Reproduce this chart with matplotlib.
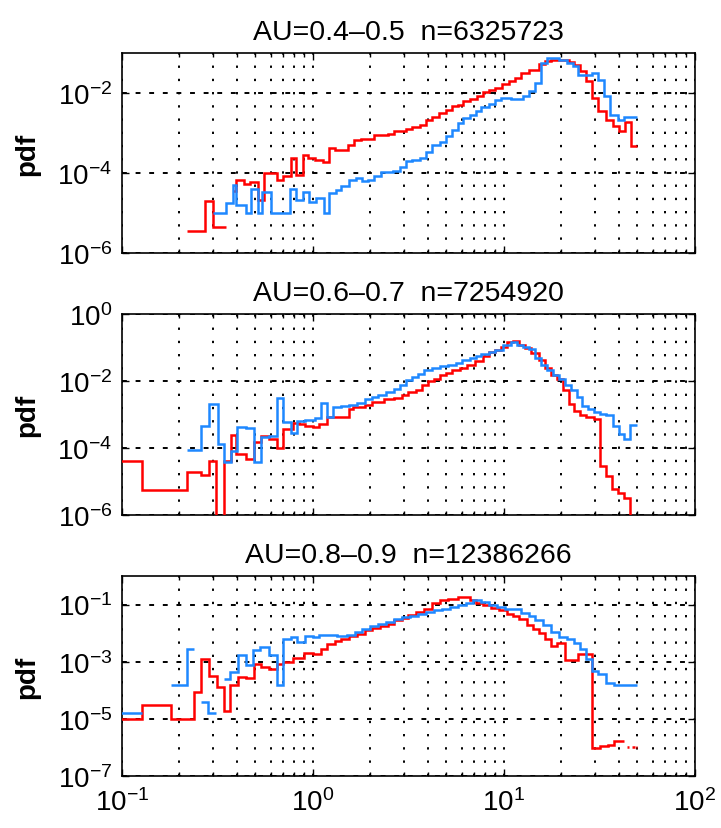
import numpy as np
import matplotlib
matplotlib.use('Agg')
import matplotlib.pyplot as plt
from matplotlib.ticker import LogLocator, NullLocator, NullFormatter

nan = np.nan

# Данные: границы бинов log10(x) и значения log10(pdf)
# --- AU=0.4-0.5 ---
p1_red_lx = [-0.660, -0.564, -0.525, -0.456, -0.421, -0.405, -0.363, -0.332, -0.290, -0.259,
             -0.187, -0.156, -0.114, -0.089, -0.052, -0.027, 0.010, 0.052, 0.083, 0.114,
             0.149, 0.183, 0.214, 0.249, 0.322, 0.394, 0.425, 0.488, 0.519, 0.560,
             0.591, 0.622, 0.660, 0.695, 0.726, 0.757, 0.788, 0.820, 0.861, 0.892,
             0.923, 0.954, 0.990, 1.027, 1.058, 1.089, 1.131, 1.183, 1.214, 1.245,
             1.338, 1.369, 1.400, 1.432, 1.463, 1.494, 1.535, 1.573, 1.604, 1.635,
             1.664, 1.697]
p1_red_ly = [-5.44, -4.71, -5.35, nan, -4.44, -4.18, -4.27, -4.22, -4.67, -4.0,
             -4.17, -4.08, -3.63, -4.04, -3.54, -3.63, -3.67, -3.73, -3.38, -3.42,
             -3.43, -3.29, -3.17, -3.14, -3.06, -3.03, -2.96, -2.89, -2.85, -2.79,
             -2.68, -2.61, -2.5, -2.42, -2.33, -2.29, -2.21, -2.15, -2.08, -1.97,
             -1.92, -1.88, -1.78, -1.71, -1.63, -1.5, -1.43, -1.27, -1.21, -1.18,
             -1.23, -1.29, -1.46, -1.71, -2.13, -2.46, -2.67, -2.83, -2.96, -2.73,
             -3.32]
p1_blue_lx = [-0.525, -0.456, -0.421, -0.405, -0.349, -0.322, -0.290, -0.266, -0.222, -0.120,
              -0.089, -0.052, -0.021, 0.017, 0.058, 0.083, 0.118, 0.149, 0.187, 0.224,
              0.259, 0.290, 0.322, 0.357, 0.388, 0.421, 0.456, 0.488, 0.519, 0.560,
              0.591, 0.622, 0.664, 0.695, 0.726, 0.757, 0.788, 0.820, 0.851, 0.882,
              0.923, 0.954, 0.985, 1.037, 1.100, 1.131, 1.162, 1.193, 1.224, 1.286,
              1.328, 1.359, 1.390, 1.463, 1.494, 1.525, 1.556, 1.598, 1.629, 1.697]
p1_blue_ly = [-5.0, -4.75, -4.31, -4.79, -5.0, -4.4, -5.0, -4.48, -5.0, -4.4,
              -4.67, -4.48, -4.73, -4.63, -5.0, -4.5, -4.42, -4.32, -4.17, -4.13,
              -4.21, -4.18, -4.08, -3.98, -3.98, -3.96, -3.85, -3.71, -3.67, -3.63,
              -3.48, -3.29, -3.23, -3.08, -2.92, -2.75, -2.63, -2.54, -2.46, -2.35,
              -2.27, -2.18, -2.13, -2.14, -2.08, -1.96, -1.75, -1.25, -1.13, -1.17,
              -1.25, -1.33, -1.54, -1.5, -1.67, -2.08, -2.54, -2.67, -2.61]

# --- AU=0.6-0.7 ---
p2_red_lx = [-1.05, -0.896, -0.660, -0.585, -0.544, -0.508, -0.467, -0.429, -0.405, -0.353,
             -0.311, -0.270, -0.228, -0.187, -0.156, -0.104, -0.073, -0.041, 0.0, 0.031,
             0.073, 0.124, 0.187, 0.207, 0.270, 0.311, 0.373, 0.425, 0.467, 0.498,
             0.539, 0.571, 0.602, 0.633, 0.664, 0.695, 0.726, 0.768, 0.809, 0.846,
             0.888, 0.923, 0.954, 0.985, 1.017, 1.048, 1.079, 1.110, 1.141, 1.183,
             1.214, 1.245, 1.276, 1.307, 1.338, 1.369, 1.400, 1.432, 1.473, 1.504,
             1.535, 1.566, 1.598, 1.629, 1.660, 1.697]
p2_red_ly = [-4.38, -5.25, -4.71, -4.81, -4.38, -9.0, -4.38, -3.61, -4.18, -4.33,
             -3.83, -3.63, -3.73, -4.01, -3.43, -3.25, -3.28, -3.33, -3.38, -3.28,
             -3.08, -3.08, -2.83, -2.78, -2.71, -2.63, -2.55, -2.5, -2.43, -2.33,
             -2.26, -2.11, -2.0, -1.93, -1.83, -1.75, -1.68, -1.61, -1.53, -1.41,
             -1.25, -1.15, -1.08, -0.98, -0.85, -0.81, -0.93, -1.03, -1.18, -1.38,
             -1.61, -1.83, -1.93, -2.28, -2.68, -2.91, -3.01, -3.08, -3.13, -4.53,
             -4.85, -5.23, -5.33, -5.48, -6.1]
p2_blue_lx = [-0.660, -0.585, -0.544, -0.498, -0.467, -0.429, -0.398, -0.353, -0.311, -0.270,
              -0.228, -0.191, -0.156, -0.114, -0.083, -0.041, 0.010, 0.041, 0.073, 0.104,
              0.145, 0.187, 0.228, 0.270, 0.311, 0.342, 0.384, 0.425, 0.456, 0.488,
              0.519, 0.550, 0.581, 0.622, 0.664, 0.705, 0.747, 0.778, 0.820, 0.851,
              0.882, 0.923, 0.954, 0.996, 1.037, 1.068, 1.100, 1.131, 1.162, 1.193,
              1.224, 1.255, 1.286, 1.317, 1.349, 1.380, 1.411, 1.442, 1.473, 1.504,
              1.535, 1.573, 1.602, 1.629, 1.660, 1.697]
p2_blue_ly = [-4.05, -3.33, -2.68, -3.88, -4.43, -4.08, -3.38, -3.41, -4.43, -3.68,
              -3.63, -2.5, -3.23, -3.55, -3.21, -3.18, -3.11, -2.65, -3.08, -2.78,
              -2.75, -2.71, -2.65, -2.55, -2.48, -2.43, -2.33, -2.23, -2.11, -1.98,
              -1.88, -1.78, -1.68, -1.61, -1.55, -1.51, -1.45, -1.38, -1.33, -1.25,
              -1.21, -1.15, -1.08, -0.93, -0.85, -0.93, -0.98, -1.05, -1.33, -1.51,
              -1.68, -1.83, -1.93, -2.11, -2.28, -2.48, -2.75, -2.83, -2.93, -2.98,
              -3.01, -3.33, -3.58, -3.73, -3.30]

# --- AU=0.8-0.9 ---
p3_red_lx = [-1.05, -0.896, -0.741, -0.622, -0.585, -0.544, -0.502, -0.467, -0.436, -0.394,
             -0.353, -0.311, -0.270, -0.228, -0.187, -0.156, -0.104, -0.046, 0.0, 0.041,
             0.073, 0.114, 0.149, 0.187, 0.228, 0.270, 0.311, 0.353, 0.394, 0.425,
             0.467, 0.498, 0.539, 0.581, 0.622, 0.664, 0.705, 0.757, 0.820, 0.851,
             0.892, 0.934, 0.975, 1.017, 1.048, 1.079, 1.120, 1.151, 1.183, 1.214,
             1.245, 1.276, 1.317, 1.390, 1.463, 1.504, 1.546, 1.577, 1.629, 1.645,
             1.657, 1.672, 1.684, 1.690, 1.697]
p3_red_ly = [-5.0, -4.53, -5.02, -4.06, -2.89, -3.5, -3.89, -4.71, -3.83, -3.54,
             -3.57, -3.07, -3.19, -3.25, -3.07, -3.01, -2.87, -2.68, -2.72, -2.54,
             -2.37, -2.29, -2.19, -2.10, -2.02, -1.90, -1.82, -1.75, -1.67, -1.55,
             -1.47, -1.35, -1.26, -1.14, -0.96, -0.85, -0.81, -0.73, -0.85, -0.93,
             -1.02, -1.12, -1.2, -1.32, -1.40, -1.51, -1.73, -1.84, -1.98, -2.19,
             -2.45, -2.33, -2.95, -2.72, -6.02, -5.96, -5.91, -5.78, nan, -5.97,
             nan, -5.97, nan, -5.97]
p3_blue_lx = [-1.05, -0.896, -0.741, -0.660, -0.622, -0.585, -0.550, -0.510, -0.467, -0.436,
              -0.394, -0.353, -0.315, -0.280, -0.232, -0.191, -0.156, -0.114, -0.083, -0.041,
              0.0, 0.031, 0.073, 0.124, 0.176, 0.218, 0.259, 0.301, 0.342, 0.384,
              0.425, 0.467, 0.508, 0.550, 0.591, 0.633, 0.674, 0.716, 0.757, 0.799,
              0.840, 0.882, 0.923, 0.965, 1.006, 1.048, 1.089, 1.131, 1.162, 1.203,
              1.245, 1.286, 1.328, 1.369, 1.400, 1.432, 1.463, 1.494, 1.535, 1.577,
              1.697]
p3_blue_ly = [-4.80, nan, -3.80, -2.57, nan, -4.42, -4.80, nan, -3.6, -3.36,
              -2.75, -3.13, -2.60, -2.49, -2.78, -3.80, -2.19, -2.13, -2.31, -2.10,
              -2.15, -2.05, -2.08, -2.10, -2.05, -1.96, -1.84, -1.75, -1.69, -1.61,
              -1.51, -1.43, -1.40, -1.32, -1.26, -1.20, -1.14, -1.08, -1.0, -0.93,
              -0.85, -0.91, -1.0, -1.08, -1.14, -1.16, -1.28, -1.40, -1.55, -1.73,
              -1.96, -2.13, -2.22, -2.33, -2.54, -2.92, -3.34, -3.42, -3.74, -3.83]

titles = ['AU=0.4\u20130.5  n=6325723',
          'AU=0.6\u20130.7  n=7254920',
          'AU=0.8\u20130.9  n=12386266']
ylims = [(1e-6, 1e-1), (1e-6, 1e0), (1e-7, 1e0)]
yticks = [[1e-6, 1e-4, 1e-2], [1e-6, 1e-4, 1e-2, 1e0], [1e-7, 1e-5, 1e-3, 1e-1]]
red_series = [(p1_red_lx, p1_red_ly), (p2_red_lx, p2_red_ly), (p3_red_lx, p3_red_ly)]
blue_series = [(p1_blue_lx, p1_blue_ly), (p2_blue_lx, p2_blue_ly), (p3_blue_lx, p3_blue_ly)]

# Шрифты в духе Helvetica
plt.rcParams['font.family'] = ['Liberation Sans', 'DejaVu Sans']
plt.rcParams['mathtext.fontset'] = 'custom'
plt.rcParams['mathtext.rm'] = 'Liberation Sans'
plt.rcParams['mathtext.it'] = 'Liberation Sans:italic'
plt.rcParams['mathtext.bf'] = 'Liberation Sans:bold'

fig = plt.figure(figsize=(7.21, 8.29), dpi=100)

# положение осей (доли фигуры)
boxes = [[0.1692, 0.6936, 0.7947, 0.2413],
         [0.1692, 0.3776, 0.7947, 0.2425],
         [0.1692, 0.0627, 0.7947, 0.2413]]

red = '#ff0000'
blue = '#1e88ff'

for i in range(3):
    ax = fig.add_axes(boxes[i])
    ax.set_xscale('log')
    ax.set_yscale('log')

    lx, ly = red_series[i]
    ax.stairs(np.power(10.0, ly), np.power(10.0, lx), baseline=None, color=red, lw=1.8, zorder=3)
    lx, ly = blue_series[i]
    ax.stairs(np.power(10.0, ly), np.power(10.0, lx), baseline=None, color=blue, lw=1.8, zorder=3)

    ax.set_xlim(0.1, 100)
    ax.set_ylim(*ylims[i])

    ax.set_xticks([0.1, 1, 10, 100])
    ax.xaxis.set_minor_locator(LogLocator(base=10, subs=np.arange(2, 10), numticks=20))
    ax.xaxis.set_minor_formatter(NullFormatter())
    ax.set_yticks(yticks[i])
    ax.yaxis.set_minor_locator(NullLocator())
    if i < 2:
        ax.set_xticklabels([])

    ax.tick_params(which='both', direction='in', top=True, right=True, width=1.0)
    ax.tick_params(which='major', length=5)
    ax.tick_params(which='minor', length=3)
    ax.tick_params(axis='x', labelsize=20, pad=9)
    ax.tick_params(axis='y', labelsize=20, pad=7)

    # сетка как в MATLAB: точечные вертикали и горизонтали по основным делениям
    ax.grid(True, which='both', axis='x', color='k', lw=1.4, linestyle=(0, (1.2, 5.6)))
    ax.grid(True, which='major', axis='y', color='k', lw=1.4, linestyle=(0, (2.5, 4.5)))
    ax.set_axisbelow(True)

    for s in ax.spines.values():
        s.set_linewidth(1.2)

    ax.set_title(titles[i], fontsize=20.5, pad=10)
    ax.set_ylabel('pdf', fontsize=20, fontweight='bold')
    ax.yaxis.set_label_coords(-0.143, 0.5)

plt.savefig('out.png', dpi=100)
